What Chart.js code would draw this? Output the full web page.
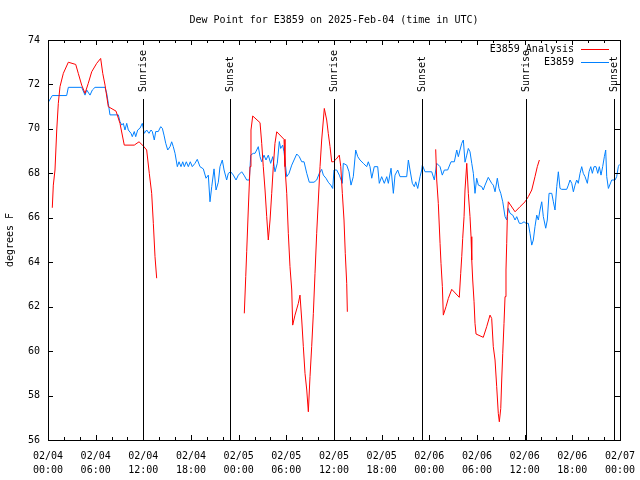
<!DOCTYPE html>
<html>
<head>
<meta charset="utf-8">
<script src="https://cdn.jsdelivr.net/npm/chart.js@4/dist/chart.umd.min.js"></script>
<style>
  html, body { margin: 0; padding: 0; background: #fff; }
</style>
</head>
<body>
<canvas id="dewpoint" width="640" height="480"></canvas>
<script>
// hours since 02/04 00:00 UTC
const stationHours = [
  0.04, 0.54, 2.35, 2.56, 4.24, 4.66, 4.87, 5.29, 5.58, 5.92, 7.18, 7.39, 7.59, 7.80, 8.85,
  9.06, 9.28, 9.48, 9.69, 9.91, 10.11, 10.45, 10.61, 10.86, 11.04, 11.29, 11.58, 11.87, 12.12,
  12.42, 12.71, 12.97, 13.13, 13.38, 13.56, 13.88, 14.19, 14.39, 14.60, 14.82, 15.07, 15.36,
  15.57, 15.77, 15.99, 16.28, 16.49, 16.74, 16.96, 17.16, 17.41, 17.66, 17.91, 18.16, 18.50,
  18.79, 19.13, 19.55, 19.89, 20.18, 20.39, 20.61, 20.90, 21.15, 21.44, 21.65, 21.94, 22.16,
  22.49, 22.70, 23.00, 23.33, 23.67, 23.96, 24.38, 24.67, 25.01, 25.34, 25.52, 25.84, 26.06,
  26.27, 26.47, 26.69, 26.90, 27.19, 27.44, 27.73, 28.03, 28.29, 28.57, 28.86, 29.12, 29.29,
  29.54, 29.71, 30.05, 30.34, 30.68, 30.97, 31.31, 31.63, 31.94, 32.23, 32.57, 32.89, 33.48,
  33.82, 34.15, 34.45, 34.66, 34.99, 35.28, 35.59, 35.84, 36.00, 36.34, 36.67, 37.05, 37.17,
  37.60, 37.89, 38.14, 38.43, 38.73, 38.99, 39.27, 39.69, 40.12, 40.32, 40.53, 40.75, 41.07,
  41.50, 41.70, 42.00, 42.33, 42.64, 42.84, 43.18, 43.47, 43.68, 44.02, 44.31, 45.15, 45.36,
  45.57, 45.86, 46.11, 46.29, 46.54, 46.83, 47.04, 47.12, 47.46, 48.30, 48.63, 48.93, 49.35,
  49.63, 49.89, 50.31, 50.73, 51.15, 51.45, 51.65, 51.86, 52.08, 52.28, 52.49, 52.71, 52.91,
  53.12, 53.34, 53.54, 53.75, 53.96, 54.17, 54.59, 54.79, 55.01, 55.42, 55.85, 56.05, 56.27,
  56.56, 56.77, 56.99, 57.24, 57.53, 57.74, 57.94, 58.16, 58.50, 58.79, 59.00, 59.33, 59.63,
  59.92, 60.17, 60.46, 60.67, 60.89, 61.09, 61.30, 61.52, 61.72, 61.93, 62.15, 62.35, 62.65,
  62.85, 63.07, 63.41, 63.61, 63.82, 64.04, 64.24, 64.45, 64.66, 65.29, 65.50, 65.71, 65.93,
  66.13, 66.34, 66.55, 66.75, 66.97, 67.18, 67.38, 67.60, 67.89, 68.10, 68.32, 68.52, 68.73,
  68.98, 69.20, 69.40, 69.61, 69.82, 70.03, 70.20, 70.33, 70.54, 70.96, 71.38, 71.58, 71.79,
  71.92
];
const stationDew = [
  71.2, 71.5, 71.5, 71.87, 71.87, 71.52, 71.75, 71.52, 71.75, 71.87, 71.87, 71.6, 71.15, 70.63, 70.63,
  70.33, 70.17, 70.25, 69.95, 70.25, 69.95, 69.8, 69.65, 69.88, 69.65, 69.95, 70.03, 70.25, 69.8,
  69.95, 69.8, 69.95, 69.88, 69.5, 69.88, 69.88, 70.1, 70.03, 69.72, 69.35, 69.05, 69.2,
  69.42, 69.2, 68.9, 68.3, 68.52, 68.3, 68.52, 68.3, 68.52, 68.3, 68.52, 68.3, 68.45,
  68.63, 68.3, 68.2, 67.78, 67.92, 66.72, 67.4, 68.2, 67.25, 67.6, 68.3, 68.6, 68.15,
  67.7, 68.0, 68.07, 67.92, 67.7, 67.92, 68.07, 67.92, 67.7, 67.7, 68.82, 68.9, 68.9,
  69.05, 69.2, 68.75, 68.52, 68.82, 68.6, 68.82, 68.45, 68.75, 68.07, 68.45, 69.43, 69.12,
  69.27, 68.97, 67.85, 68.0, 68.37, 68.6, 68.87, 68.75, 68.52, 68.52, 68.0, 67.6, 67.6,
  67.7, 68.0, 68.18, 67.92, 67.78, 67.6, 67.47, 67.32, 68.15, 68.15, 67.92, 67.55, 68.45,
  68.37, 68.07, 67.47, 67.85, 69.05, 68.75, 68.6, 68.45, 68.3, 68.52, 68.3, 67.78, 68.3,
  68.3, 67.55, 67.85, 67.55, 67.85, 67.55, 68.23, 67.1, 67.92, 68.15, 67.85, 67.85, 68.6,
  68.15, 67.55, 67.4, 67.62, 67.32, 67.85, 68.15, 68.37, 68.07, 68.07, 67.7, 68.45, 68.3,
  67.92, 68.15, 68.15, 68.52, 68.52, 69.05, 68.75, 69.05, 69.35, 69.5, 68.5, 68.82, 69.12,
  68.97, 68.45, 68.0, 67.1, 67.78, 67.47, 67.4, 67.25, 67.47, 67.82, 67.55, 67.47, 67.17,
  67.78, 67.32, 67.1, 66.72, 66.05, 65.9, 66.42, 66.2, 66.12, 65.9, 66.05, 65.75, 65.75,
  65.82, 65.75, 65.75, 65.3, 64.77, 65.0, 65.6, 66.12, 65.9, 66.35, 66.72, 66.05, 65.53,
  65.9, 67.1, 67.1, 66.72, 66.35, 67.4, 68.07, 67.32, 67.28, 67.28, 67.47, 67.7, 67.55,
  67.17, 67.47, 67.7, 67.55, 68.0, 68.3, 68.0, 67.85, 67.55, 68.07, 68.3, 68.0, 68.3,
  68.3, 68.0, 68.3, 67.92, 68.3, 68.75, 69.05, 67.85, 67.32, 67.7, 67.7, 67.85, 68.3,
  68.4
];

// analysis has three runs, null marks the breaks
const analysisHours = [
  0.54, 0.67, 0.88, 1.10, 1.30, 1.51, 1.93, 2.56, 3.49, 3.81, 4.24, 4.66, 5.07, 5.50, 6.13,
  6.63, 6.89, 7.18, 7.59, 8.56, 9.06, 9.60, 10.86, 11.46, 12.00, 12.42, 12.75, 13.05, 13.26,
  13.47, 13.68,
  18.0,
  24.71, 24.89, 25.01, 25.21, 25.43, 25.55, 25.77, 26.69, 26.90, 27.10, 27.32, 27.53, 27.73,
  27.95, 28.16, 28.36, 28.57, 28.79, 29.71, 29.83, 30.05, 30.25, 30.46, 30.68, 30.80, 31.09,
  31.51, 31.72, 31.94, 32.14, 32.35, 32.57, 32.77, 32.98, 33.19, 33.40, 33.61, 33.82, 34.03,
  34.24, 34.45, 34.66, 34.78, 35.08, 35.28, 35.50, 35.71, 35.91, 36.25, 36.67, 36.85, 37.05,
  37.26, 37.42, 37.60, 37.68,
  42.0,
  48.80, 48.93, 49.13, 49.35, 49.47, 49.64, 49.76, 50.10, 50.39, 50.82, 51.77, 51.95, 52.08,
  52.20, 52.37, 52.49, 52.71, 52.91, 53.12, 53.25, 53.34, 53.46, 53.63, 53.75, 53.88, 54.79,
  55.22, 55.64, 55.85, 56.05, 56.27, 56.48, 56.68, 56.81, 56.99, 57.11, 57.24, 57.40, 57.53,
  57.65, 57.74, 57.82, 57.94, 58.79, 59.42, 60.05, 60.46, 60.89, 61.30, 61.59, 61.85
];
const analysisDew = [
  66.45, 67.47, 68.15, 69.95, 71.15, 71.9, 72.5, 73.0, 72.9, 72.5, 71.97, 71.6, 72.05, 72.57, 72.95,
  73.17, 72.5, 71.97, 71.0, 70.8, 70.25, 69.27, 69.27, 69.42, 69.23, 69.05, 68.0, 67.1, 65.75,
  64.25, 63.28,
  null,
  61.7, 63.35, 64.47, 66.35, 68.3, 69.95, 70.58, 70.28, 69.35, 68.3, 67.25, 66.05, 65.0,
  65.9, 67.1, 68.3, 69.35, 69.87, 69.53, 68.3, 67.1, 65.3, 63.8, 62.75, 61.17, 61.62,
  62.15, 62.52, 61.4, 60.2, 59.0, 58.25, 57.27, 58.85, 60.2, 61.7, 63.5, 65.3, 66.8,
  68.3, 69.5, 70.4, 70.92, 70.4, 69.8, 69.2, 68.52, 68.52, 68.63, 68.82, 68.3, 67.1,
  65.9, 64.4, 63.05, 61.77,
  null,
  69.08, 67.7, 66.65, 64.85, 63.95, 62.9, 61.62, 62.0, 62.37, 62.78, 62.42, 63.5, 64.25,
  65.07, 66.05, 67.25, 68.45, 67.1, 66.05, 65.15, 64.1, 63.2, 62.22, 61.25, 60.77, 60.62,
  61.1, 61.62, 61.47, 60.2, 59.6, 58.4, 57.2, 56.82, 57.42, 58.7, 59.9, 61.25, 62.45,
  63.65, 64.85, 66.05, 66.72, 66.27, 66.5, 66.72, 66.95, 67.25, 67.85, 68.3, 68.6
];

const sunHours = [12.0, 22.95, 36.04, 47.12, 60.21, 71.29];
const sunLabels = ['Sunrise', 'Sunset', 'Sunrise', 'Sunset', 'Sunrise', 'Sunset'];

const dayLabels = ['02/04', '02/04', '02/04', '02/04', '02/05', '02/05', '02/05', '02/05',
  '02/06', '02/06', '02/06', '02/06', '02/07'];
const clockLabels = ['00:00', '06:00', '12:00', '18:00', '00:00', '06:00', '12:00', '18:00',
  '00:00', '06:00', '12:00', '18:00', '00:00'];

const MONO = '"DejaVu Sans Mono", "Liberation Mono", monospace';
const toPoints = (xs, ys) => xs.map((h, i) => ({ x: h, y: ys[i] }));

// gnuplot look: closed frame, inward ticks, sun markers, title and legend
const gnuplotDecor = {
  id: 'gnuplotDecor',
  afterDatasetsDraw(chart) {
    const { ctx, chartArea: a, scales: { x, y } } = chart;
    ctx.save();
    ctx.strokeStyle = '#000';
    ctx.lineWidth = 1;

    ctx.beginPath();
    x.ticks.forEach((t) => {
      const px = Math.round(x.getPixelForValue(t.value)) + 0.5;
      const len = t.value % 6 === 0 ? 5 : 3;
      ctx.moveTo(px, a.bottom); ctx.lineTo(px, a.bottom - len);
      ctx.moveTo(px, a.top); ctx.lineTo(px, a.top + len);
    });
    y.ticks.forEach((t) => {
      const py = Math.round(y.getPixelForValue(t.value)) + 0.5;
      ctx.moveTo(a.left, py); ctx.lineTo(a.left + 5, py);
      ctx.moveTo(a.right, py); ctx.lineTo(a.right - 5, py);
    });
    ctx.stroke();

    // sunrise / sunset
    ctx.font = '10px ' + MONO;
    ctx.fillStyle = '#000';
    sunHours.forEach((h, i) => {
      const px = Math.round(x.getPixelForValue(h)) + 0.5;
      ctx.beginPath();
      ctx.moveTo(px, a.top + 59);
      ctx.lineTo(px, a.bottom);
      ctx.stroke();
      ctx.save();
      ctx.translate(px, a.top + 52);
      ctx.rotate(-Math.PI / 2);
      ctx.textAlign = 'left';
      ctx.textBaseline = 'middle';
      ctx.fillText(sunLabels[i], 0, 0);
      ctx.restore();
    });

    ctx.strokeRect(a.left + 0.5, a.top + 0.5, a.right - a.left, a.bottom - a.top);

    ctx.textAlign = 'center';
    ctx.textBaseline = 'middle';
    ctx.fillText('Dew Point for E3859 on 2025-Feb-04 (time in UTC)', (a.left + a.right) / 2, 20);

    // legend
    ctx.textAlign = 'right';
    chart.data.datasets.forEach((ds, i) => {
      const ly = a.top + 9.5 + i * 13;
      ctx.fillStyle = '#000';
      ctx.fillText(ds.label, a.right - 46, ly);
      ctx.strokeStyle = ds.borderColor;
      ctx.beginPath();
      ctx.moveTo(a.right - 39, ly);
      ctx.lineTo(a.right - 11, ly);
      ctx.stroke();
    });
    ctx.restore();
  },
};

new Chart(document.getElementById('dewpoint'), {
  type: 'line',
  data: {
    datasets: [
      {
        label: 'E3859 Analysis',
        data: toPoints(analysisHours, analysisDew),
        borderColor: '#ff0000',
        borderWidth: 1,
        pointRadius: 0,
        spanGaps: false,
      },
      {
        label: 'E3859',
        data: toPoints(stationHours, stationDew),
        borderColor: 'rgb(0, 128, 255)',
        borderWidth: 1,
        pointRadius: 0,
      },
    ],
  },
  options: {
    responsive: false,
    animation: false,
    devicePixelRatio: 1,
    layout: { padding: { top: 40, right: 20, left: 0, bottom: 0 } },
    plugins: {
      legend: { display: false },
      tooltip: { enabled: false },
    },
    scales: {
      x: {
        type: 'linear',
        min: 0,
        max: 72,
        grid: { display: false, drawTicks: false },
        border: { display: false },
        afterFit(scale) {
          scale.height = 40;
          scale.paddingLeft = 0;
          scale.paddingRight = 0;
        },
        ticks: {
          stepSize: 2,
          autoSkip: false,
          maxRotation: 0,
          padding: 9,
          color: '#000',
          font: { family: MONO, size: 10, lineHeight: 1.4 },
          callback(value) {
            if (value % 6 !== 0) return '';
            const i = value / 6;
            return [dayLabels[i], clockLabels[i]];
          },
        },
      },
      y: {
        min: 56,
        max: 74,
        grid: { display: false, drawTicks: false },
        border: { display: false },
        afterFit(scale) {
          scale.width = 48;
          scale.paddingTop = 0;
          scale.paddingBottom = 0;
        },
        ticks: {
          stepSize: 2,
          padding: 8,
          color: '#000',
          font: { family: MONO, size: 10 },
        },
        title: {
          display: true,
          text: 'degrees F',
          color: '#000',
          font: { family: MONO, size: 10 },
          padding: { top: 4, bottom: 0 },
        },
      },
    },
  },
  plugins: [gnuplotDecor],
});
</script>
</body>
</html>
